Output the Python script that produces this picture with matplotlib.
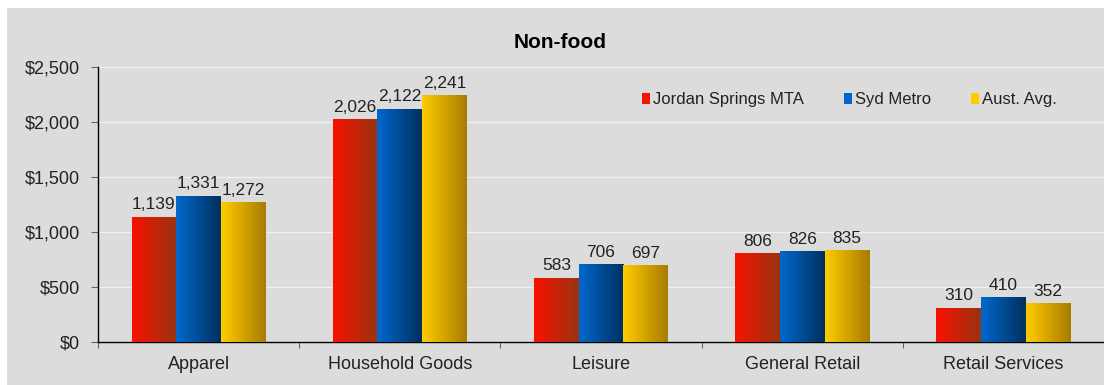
import numpy as np
import matplotlib
matplotlib.use('Agg')
import matplotlib.pyplot as plt
from matplotlib.colors import LinearSegmentedColormap
from matplotlib.patches import Rectangle
from matplotlib.ticker import FuncFormatter, FixedLocator

plt.rcParams['font.family'] = ['Liberation Sans', 'DejaVu Sans']

categories = ['Apparel', 'Household Goods', 'Leisure', 'General Retail', 'Retail Services']
series_names = ['Jordan Springs MTA', 'Syd Metro', 'Aust. Avg.']
jordan = [1139, 2026, 583, 806, 310]
syd = [1331, 2122, 706, 826, 410]
aust = [1272, 2241, 697, 835, 352]

# left (light) and right (dark) colour of each bar gradient
gradients = [('#f81200', '#993311'), ('#0068cc', '#00305f'), ('#ffcc00', '#a87c00')]

BG = '#dcdcdc'

fig = plt.figure(figsize=(11.04, 3.85), dpi=100)
fig.patch.set_facecolor('white')
fig.patches.append(Rectangle((7 / 1104, 0), 1, 1 - 8 / 385, transform=fig.transFigure,
                             facecolor=BG, edgecolor='none', zorder=-10))

ax = fig.add_axes([98 / 1104, 43 / 385, 1006 / 1104, 275 / 385])
ax.set_zorder(1)
ax.set_facecolor(BG)

x = np.arange(len(categories))
width = 0.222
values = [jordan, syd, aust]
for i, (vals, (c0, c1)) in enumerate(zip(values, gradients)):
    cmap = LinearSegmentedColormap.from_list(f'g{i}', [c0, c1])
    grad = np.linspace(0, 1, 64).reshape(1, -1)
    bars = ax.bar(x + (i - 1) * width, vals, width, color=c0, edgecolor='none', zorder=2,
                  label=series_names[i])
    for b, v in zip(bars, vals):
        x0, w = b.get_x(), b.get_width()
        img = ax.imshow(grad, cmap=cmap, aspect='auto', extent=(x0, x0 + w, 0, v),
                        zorder=3, interpolation='bilinear')
        img.set_clip_path(b)
        ax.text(x0 + w / 2, v + 40, f'{v:,}', ha='center', va='bottom', fontsize=12.5,
                color='#222222', zorder=4)

ax.set_xlim(-0.5, len(categories) - 0.5)
ax.set_ylim(0, 2500)
ax.set_yticks(np.arange(0, 2501, 500))
ax.yaxis.set_major_formatter(FuncFormatter(lambda v, p: f'${v:,.0f}'))
ax.grid(axis='y', color='#f0f0f0', linewidth=1, zorder=1)
ax.set_axisbelow(True)

ax.set_xticks(x)
ax.set_xticklabels(categories)
ax.xaxis.set_minor_locator(FixedLocator(np.arange(-0.5, len(categories), 1)))
ax.tick_params(axis='x', which='major', length=0, pad=10, labelsize=13, labelcolor='#222222')
ax.tick_params(axis='x', which='minor', length=4, width=0.8, color='#666666')
ax.tick_params(axis='y', length=5, width=0.8, pad=8, labelsize=13, labelcolor='#222222',
               color='#666666')

for s in ['top', 'right']:
    ax.spines[s].set_visible(False)
ax.spines['left'].set_linewidth(1)
ax.spines['bottom'].set_linewidth(1)

ax.set_title('Non-food', fontsize=15, fontweight='bold', pad=14, x=(560 - 98) / 1006)

leg = ax.legend(loc='upper left', bbox_to_anchor=(529 / 1006, 0.962), ncol=3, frameon=False,
                fontsize=12, handlelength=0.5, handleheight=0.7, handletextpad=0.15,
                columnspacing=2.4)
for t in leg.get_texts():
    t.set_color('#222222')

fig.savefig('out.png', dpi=100, facecolor=fig.get_facecolor())
